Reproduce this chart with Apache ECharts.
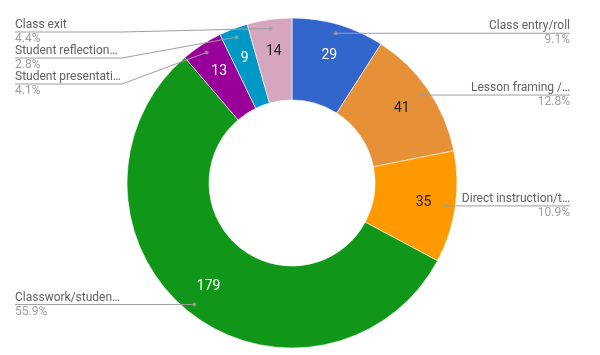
<!DOCTYPE html>
<html lang="en">
  <head>
    <meta charset="UTF-8" />
    <title>Lesson time</title>
    <style>
      html, body { margin: 0; padding: 0; background: #fff; }
      #main { width: 600px; height: 355px; }
    </style>
  </head>
  <body>
    <div id="main"></div>
    <script src="https://cdn.jsdelivr.net/npm/echarts@6/dist/echarts.min.js"></script>
    <script>
      const categories = ['Class entry/roll', 'Lesson framing /…', 'Direct instruction/t…', 'Classwork/studen…', 'Student presentati…', 'Student reflection…', 'Class exit']
      const values = [29, 41, 35, 179, 13, 9, 14]
      const colors = ['#3366cc', '#e69138', '#ff9900', '#109618', '#990099', '#0099c6', '#d5a6bd']
      const valueColors = ['#fff', '#222', '#222', '#fff', '#fff', '#fff', '#222']

      // donut geometry (px)
      const cx = 292, cy = 183, rIn = 83, rOut = 165
      const rDot = 156, rValue = 133
      const total = values.reduce((a, b) => a + b, 0)

      // mid angle of each slice, degrees clockwise from top
      let acc = 0
      const mids = values.map(v => {
        const m = acc + v / 2
        acc += v
        return m
      })
      const toXY = (i, r) => {
        const a = (mids[i] / total) * Math.PI * 2
        return [cx + r * Math.sin(a), cy - r * Math.cos(a)]
      }

      // outside label rows, pushed apart so they don't overlap
      const labelY = []
      const rowH = 26, topY = 32
      ;['L', 'R'].forEach(side => {
        const idx = values.map((v, i) => i).filter(i => (toXY(i, rDot)[0] >= cx ? 'R' : 'L') === side)
        idx.sort((a, b) => toXY(a, rDot)[1] - toXY(b, rDot)[1])
        let prev = -Infinity
        idx.forEach(i => {
          let y = Math.max(toXY(i, rDot)[1], topY, prev + rowH)
          labelY[i] = y
          prev = y
        })
      })

      const myChart = echarts.init(document.getElementById('main'))
      const option = {
        animation: false,
        textStyle: { fontFamily: 'Roboto' },
        polar: { center: [cx, cy], radius: rOut },
        angleAxis: { type: 'value', min: 0, max: total, startAngle: 90, clockwise: true, show: false },
        radiusAxis: { type: 'value', min: 0, max: rOut, show: false },
        series: [
          {
            type: 'pie',
            center: [cx, cy],
            radius: [rIn, rOut],
            startAngle: 90,
            z: 2,
            silent: true,
            itemStyle: { borderColor: '#fff', borderWidth: 0.6 },
            label: { show: true, position: 'inside', formatter: '{c}', fontSize: 14, fontFamily: 'Roboto' },
            labelLine: { show: false },
            labelLayout: p => {
              const [x, y] = toXY(p.dataIndex, rValue)
              return { x: x, y: y, align: 'center', verticalAlign: 'middle' }
            },
            data: categories.map((name, i) => ({
              name: name,
              value: values[i],
              itemStyle: { color: colors[i] },
              label: { color: valueColors[i] }
            }))
          },
          {
            type: 'pie',
            center: [cx, cy],
            radius: [rIn, rOut],
            startAngle: 90,
            z: 3,
            silent: true,
            percentPrecision: 1,
            itemStyle: { color: 'rgba(0,0,0,0)' },
            label: {
              show: true,
              position: 'outside',
              overflow: 'none',
              formatter: '{n|{b}}\n{p|{d}%}',
              rich: {
                n: { fontSize: 12, color: '#616161', lineHeight: 14, fontFamily: 'Roboto' },
                p: { fontSize: 12, color: '#9e9e9e', lineHeight: 14, fontFamily: 'Roboto' }
              }
            },
            labelLine: { show: true, lineStyle: { color: '#9e9e9e', width: 1 } },
            labelLayout: p => {
              const i = p.dataIndex
              const [dx, dy] = toXY(i, rDot)
              const ly = labelY[i]
              if (dx >= cx) {
                return {
                  x: 570, y: ly, align: 'right', verticalAlign: 'middle',
                  labelLinePoints: [[dx, dy], [Math.max(dx, 462), ly], [570, ly]]
                }
              }
              return {
                x: 15, y: ly, align: 'left', verticalAlign: 'middle',
                labelLinePoints: [[dx, dy], [Math.min(dx, 122), ly], [15, ly]]
              }
            },
            data: categories.map((name, i) => ({ name: name, value: values[i] }))
          },
          {
            // small dots where the leader lines start
            type: 'scatter',
            coordinateSystem: 'polar',
            symbolSize: 4,
            z: 4,
            silent: true,
            itemStyle: { color: '#9e9e9e' },
            data: mids.map(m => [rDot, m])
          }
        ]
      }
      myChart.setOption(option)
    </script>
  </body>
</html>
